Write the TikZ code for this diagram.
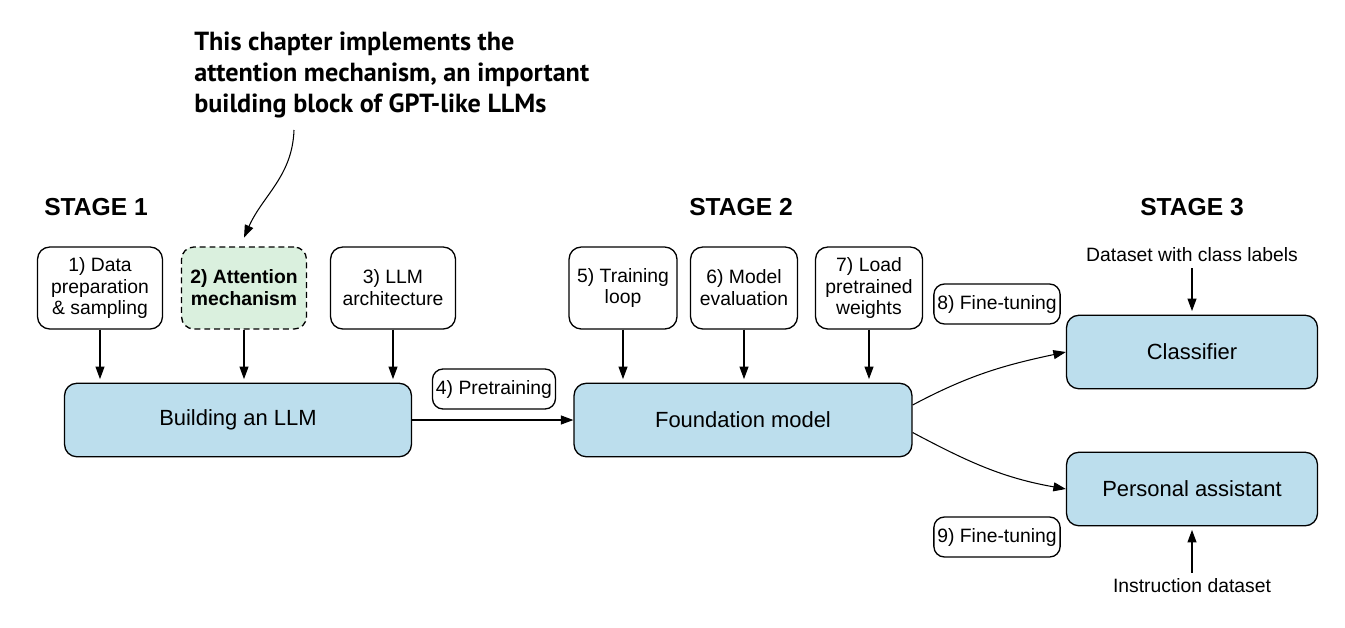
\documentclass[tikz,border=0pt]{standalone}
\usepackage{fontspec}
\setmainfont{Liberation Sans}
\newfontfamily\notefont{PT Sans}
\usetikzlibrary{positioning,arrows.meta}
\definecolor{llmblue}{RGB}{188,222,237}
\definecolor{llmgreen}{RGB}{218,240,222}
\tikzset{
	taskbox/.style={draw, rounded corners=7pt, line width=0.75pt, minimum width=2.5cm, minimum height=1.64cm, inner sep=1pt, align=center, font=\fontsize{11}{12.5}\selectfont},
	mainbox/.style={draw, fill=llmblue, rounded corners=7pt, line width=0.75pt, minimum height=1.47cm, font=\fontsize{12.5}{14}\selectfont},
	tagbox/.style={draw, rounded corners=6pt, line width=0.75pt, minimum height=0.8cm, inner xsep=2pt, font=\fontsize{11}{12.5}\selectfont},
	stagelabel/.style={font=\fontsize{14}{16}\selectfont\bfseries},
	flow/.style={-{Triangle[length=2.5mm,width=1.8mm]}, line width=0.6pt},
}

\begin{document}
\begin{tikzpicture}[x=0.02cm, y=0.02cm]
	\useasboundingbox (0,0) rectangle (1345,627);
	
	\node[stagelabel] (s1) at (96,420) {STAGE 1};
	\node[stagelabel] (s2) at (741,420) {STAGE 2};
	\node[stagelabel] (s3) at (1192,420) {STAGE 3};
	
	\node[taskbox] (t1) at (100,339) {1) Data\\preparation\\\& sampling};
	\node[taskbox, fill=llmgreen, dash pattern=on 3.4pt off 2.2pt, font=\fontsize{11}{12.5}\selectfont\bfseries] (t2) at (244,339) {2) Attention\\mechanism};
	\node[taskbox] (t3) at (393,339) {3) LLM\\architecture};
	\node[taskbox, minimum width=2.16cm] (t5) at (623,339) {5) Training\\loop};
	\node[taskbox, minimum width=2.14cm] (t6) at (744,339) {6) Model\\evaluation};
	\node[taskbox, minimum width=2.14cm] (t7) at (869,339) {7) Load\\pretrained\\weights};
	
	\node[mainbox, minimum width=6.94cm] (bld) at (238,207) {Building an LLM};
	\node[mainbox, minimum width=6.76cm] (fm) at (743,207) {Foundation model};
	\node[mainbox, minimum width=5.02cm] (cls) at (1192,275) {Classifier};
	\node[mainbox, minimum width=5.02cm] (pa) at (1192,138) {Personal assistant};
	
	\node[tagbox] (pre) at (494,238) {4) Pretraining};
	\node[tagbox] (ft8) at (997,323) {8) Fine-tuning};
	\node[tagbox] (ft9) at (997,90) {9) Fine-tuning};
	
	\node[font=\fontsize{11}{12.5}\selectfont] (dset) at (1192,372) {Dataset with class labels};
	\node[font=\fontsize{11}{12.5}\selectfont] (inst) at (1192,41) {Instruction dataset};
	
	\node[anchor=north west, align=left, inner sep=0pt, font=\notefont\fontsize{14.9}{17.6}\selectfont\bfseries] (note) at (194,595) {This chapter implements the\\attention mechanism, an important\\building block of GPT-like LLMs};
	\coordinate (notetail) at (294,497);
	
	\draw[flow] (notetail) to[out=-92, in=66] ([yshift=5pt]t2.north);
	\foreach \t in {t1,t2,t3} {
		\draw[flow, shorten >=2pt] (\t.south) -- (\t.south |- bld.north);
	}
	\foreach \t in {t5,t6,t7} {
		\draw[flow, shorten >=2pt] (\t.south) -- (\t.south |- fm.north);
	}
	\draw[flow] (bld) -- (fm);
	\draw[flow] ([yshift=0.3cm]fm.east) to[out=28, in=192] (cls.west);
	\draw[flow] ([yshift=-0.25cm]fm.east) to[out=-28, in=170] (pa.west);
	\draw[flow, shorten >=2pt] (dset) -- (cls);
	\draw[flow, shorten >=2pt] (inst) -- (pa);
\end{tikzpicture}
\end{document}
